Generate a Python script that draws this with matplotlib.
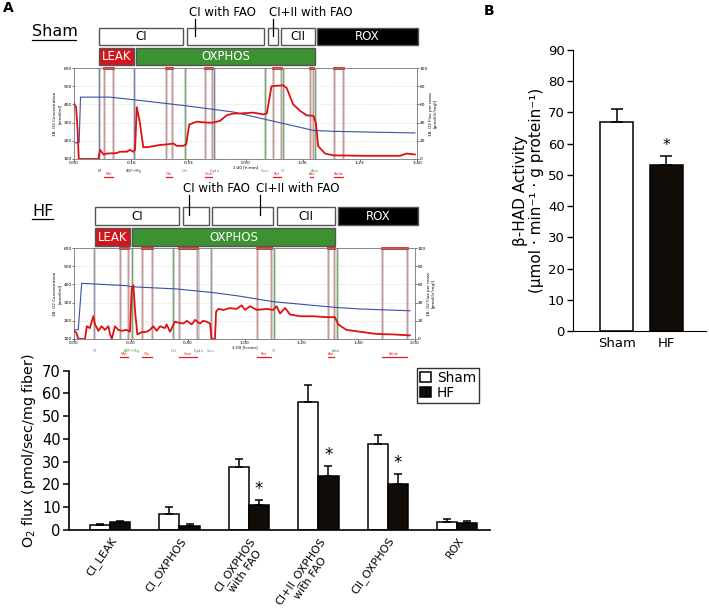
import matplotlib
matplotlib.use("Agg")
import matplotlib.pyplot as plt
from matplotlib.patches import Rectangle
from matplotlib.lines import Line2D
from matplotlib.ticker import AutoMinorLocator
import matplotlib.transforms as mtransforms

W, H = 709, 612

# ---- Oxygraph traces (time in min) ----
sham_o2_t = [0, 1.5, 1.9, 10.5, 17.3, 32.4, 46.5, 56.2, 69.8, 75.6, 99.4]
sham_o2 = [188, 190, 440, 440, 426, 393, 358, 316, 257, 252, 243]
sham_flux_t = [0, 0.6, 1.0, 1.4, 7.1, 7.6, 8.6, 9.5, 12.4, 13.4, 15.4, 16.3, 17.3, 17.8, 18.3,
               19.2, 20.2, 21.2, 23.1, 25.1, 27.0, 29.0, 29.9, 31.9, 32.7, 33.6, 35.8, 38.7, 40.6,
               42.6, 44.5, 46.5, 48.4, 52.3, 55.2, 56.2, 57.6, 61.0, 62.0, 63.9, 65.9, 67.8, 69.8,
               70.5, 71.2, 73.2, 75.6, 85.3, 95.0, 97.0, 99.4]
sham_flux = [61, 57, 35, 0, 0, 10, 5, 6, 6.5, 8, 8, 10, 8, 10, 57,
             40, 13, 13, 14, 15.5, 16, 17, 14.5, 14.5, 16, 38, 41, 40, 40,
             42, 48, 50, 50, 51, 49, 50, 80, 81, 78, 60, 53, 48, 47.5,
             40, 14, 6, 4, 3.5, 3.5, 6, 5]
sham_single_t = [7.2, 17.6, 32.4, 40.9, 55.7, 60.8, 70.4]
sham_single_c = ["#5060a0", "#5060a0", "#40a040", "#5060a0", "#40a040", "#40a040", "#40a040"]
sham_single_lab = ["M", "ADP+Mg", "Oct", "Cyt c", "Succ", "Gl", "Ama"]
sham_pairs = [(8.8, 11.3), (26.7, 28.5), (38.3, 40.2), (57.9, 60.3), (68.8, 69.8), (75.9, 78.5)]
sham_pair_lab = ["Mal", "Glu", "Carn", "Rot", "Ant", "Azide"]

hf_o2_t = [0, 1.5, 2.7, 18.5, 20.3, 36.1, 48.4, 57.2, 70.1, 92.4, 100.6, 118.2]
hf_o2 = [151, 151, 406, 393, 387, 375, 356, 338, 305, 273, 265, 255]
hf_flux_t = [0, 0.9, 1.5, 3.9, 4.5, 5.6, 6.8, 7.4, 8.6, 9.7, 10.9, 12.1, 12.7, 13.3, 14.4,
             15.6, 16.8, 18.5, 19.7, 20.3, 20.9, 21.5, 22.3, 23.8, 25.6, 26.7, 27.9, 29.1, 30.3,
             32.0, 32.6, 33.8, 35.5, 36.7, 38.5, 39.7, 41.4, 42.6, 44.3, 45.5, 46.7, 47.9, 48.4,
             49.6, 50.0, 50.8, 52.6, 54.9, 57.2, 59.0, 60.2, 61.9, 64.3, 67.8, 70.1, 71.3, 72.5,
             74.3, 76.0, 79.5, 84.2, 88.9, 91.8, 93.0, 95.9, 100.6, 106.5, 112.4, 118.2]
hf_flux = [9, 6.5, 0, 0, 14, 12, 25, 16, 9, 14, 10, 14, 5, 0, 14,
           10, 9, 10, 8, 56, 59, 30, 5, 7.5, 8, 10, 14, 9, 14,
           12, 16, 8, 19, 18, 17, 20, 16, 21, 17, 20, 19, 17, 0,
           0, 30, 33, 32, 34, 33, 37, 32, 36, 32, 33, 32, 36, 28,
           34, 27, 25, 25, 24, 24, 16, 10, 8, 5.5, 5, 4]
hf_single_t = [7.2, 20.3, 35.0, 43.8, 48.1, 70.4, 92.4]
hf_single_c = ["#8080a0", "#40a040", "#40a040", "#5060a0", "#8080a0", "#40a040", "#40a040"]
hf_single_lab = ["M", "ADP+Mg", "Oct", "Cyt c", "Succ", "Gl", "Ama"]
hf_pairs = [(16.2, 19.1), (23.8, 27.3), (37.1, 43.2), (64.3, 69.2), (89.3, 91.5), (108.3, 117.1)]
hf_pair_lab = ["Mal", "Glu", "Carn", "Rot", "Ant", "Azide"]

# ---- protocol bars (start, end in min) ----
sham_row1 = [("CI", 7.3, 31.8), ("", 33.0, 55.4), ("", 56.6, 59.5), ("CII", 60.3, 70.3), ("ROX", 70.8, 100.3)]
sham_row2 = [("LEAK", 7.3, 17.5), ("OXPHOS", 18.1, 70.3)]
sham_notes = [("CI with FAO", 43.4, 35.3), ("CI+II with FAO", 69.1, 58.0)]
hf_row1 = [("CI", 7.4, 36.9), ("", 38.4, 47.5), ("", 48.6, 70.0), ("CII", 71.4, 91.8), ("ROX", 92.9, 121.0)]
hf_row2 = [("LEAK", 7.4, 19.7), ("OXPHOS", 20.4, 91.8)]
hf_notes = [("CI with FAO", 50.0, 40.3), ("CI+II with FAO", 78.8, 65.5)]

# ---- O2 flux bar chart ----
flux_groups = ["CI_LEAK", "CI_OXPHOS", "CI_OXPHOS\nwith FAO", "CI+II_OXPHOS\nwith FAO", "CII_OXPHOS", "ROX"]
sham_mean = [2.2, 7.2, 27.6, 56.3, 38.0, 3.6]
sham_err = [0.4, 3.0, 3.8, 7.4, 3.8, 1.4]
hf_mean = [3.5, 1.9, 10.8, 23.7, 20.3, 3.2]
hf_err = [0.4, 0.7, 2.2, 4.5, 4.1, 0.9]
flux_sig = [False, False, True, True, True, False]

# ---- beta-HAD ----
had_groups = ["Sham", "HF"]
had_mean = [66.9, 53.1]
had_err = [4.1, 2.9]
had_sig = [False, True]


def rect(l, t, r, b):
    return [l / W, 1 - b / H, (r - l) / W, (b - t) / H]


fig = plt.figure(figsize=(W / 100, H / 100), dpi=100)


def draw_trace(box, o2_t, o2, fl_t, fl, xmax, tick_lab, center_lab,
               single_t, single_c, single_lab, pairs, pair_lab):
    ax = fig.add_axes(box)
    ax2 = ax.twinx()
    ax.set_xlim(0, xmax)
    ax.set_ylim(100, 600)
    ax2.set_ylim(0, 100)
    for y in range(200, 600, 100):
        ax.axhline(y, color="#c0c0c0", lw=0.5, ls=(0, (1, 2)), zorder=0)
    for t, c in zip(single_t, single_c):
        ax.axvline(t, color="#d0d0d0", lw=2, zorder=1)
        ax.axvline(t, color=c, lw=0.5, zorder=1)
    trans = mtransforms.blended_transform_factory(ax.transData, ax.transAxes)
    for (t1, t2), lab in zip(pairs, pair_lab):
        for t in (t1, t2):
            ax.axvline(t, color="#d0d0d0", lw=2, zorder=1)
            ax.axvline(t, color="#e06060", lw=0.4, zorder=1)
        ax.plot([t1, t2], [1, 1], color="#e02020", lw=2, transform=trans, clip_on=False)
        ax.plot([t1, t2], [-0.2, -0.2], color="#e02020", lw=0.9, transform=trans, clip_on=False)
        ax.text((t1 + t2) / 2, -0.17, lab, color="#e02020", fontsize=2.6, ha="center",
                va="center", transform=trans)
    for t, c, lab in zip(single_t, single_c, single_lab):
        ax.text(t, -0.13, lab, color=c if c != "#5060a0" else "#404040", fontsize=2.6,
                ha="center", va="center", transform=trans)
    ax.plot(o2_t, o2, color="#3a4fa8", lw=0.8, zorder=3)
    ax2.plot(fl_t, fl, color="#e01010", lw=1.3, zorder=3)
    ticks = [xmax * i / 6 for i in range(7)]
    ax.set_xticks(ticks)
    ax.set_xticklabels(tick_lab)
    ax.xaxis.set_minor_locator(AutoMinorLocator(5))
    ax.set_yticks(range(100, 601, 100))
    ax2.set_yticks(range(0, 101, 20))
    for a in (ax, ax2):
        a.tick_params(labelsize=3.2, length=1.2, width=0.4, pad=0.5)
        a.tick_params(which="minor", length=0.8, width=0.3)
        for s in a.spines.values():
            s.set_color("#808080")
            s.set_linewidth(0.5)
    ax.set_ylabel("1B: O2 Concentration\n[nmol/ml]", fontsize=3, labelpad=1)
    ax2.set_ylabel("1B: O2 Flux per mass\n[pmol/(s*mg)]", fontsize=3, labelpad=1)
    ax.text(0.5, -0.088, center_lab, fontsize=3.0, ha="center", va="center", transform=ax.transAxes)
    return ax


def draw_protocol(box, share, row1, row2, notes, note_y):
    ap = fig.add_axes(box, sharex=share)
    ap.set_ylim(0, 1)
    ap.axis("off")
    fills = {"CI": "white", "": "white", "CII": "white", "ROX": "black",
             "LEAK": "#d2161e", "OXPHOS": "#3c9130"}
    for lab, t1, t2 in row1:
        fc = fills[lab]
        ap.add_patch(Rectangle((t1, 0.344), t2 - t1, 0.28, facecolor=fc, edgecolor="#555555",
                               lw=1.0, clip_on=False))
        ap.text((t1 + t2) / 2, 0.484, lab, fontsize=8.5, ha="center", va="center",
                color="white" if fc == "black" else "black", clip_on=False)
    for lab, t1, t2 in row2:
        ap.add_patch(Rectangle((t1, 0.016), t2 - t1, 0.28, facecolor=fills[lab], edgecolor="#555555",
                               lw=1.0, clip_on=False))
        ap.text((t1 + t2) / 2, 0.156, lab, fontsize=8.5, ha="center", va="center",
                color="white", clip_on=False)
    for lab, tx, tl in notes:
        ap.text(tx, note_y, lab, fontsize=8.5, ha="center", va="center", clip_on=False)
        ap.plot([tl, tl], [note_y - 0.1, 0.5], color="black", lw=0.9, clip_on=False)


ax_s = draw_trace(rect(74, 68, 417, 159), sham_o2_t, sham_o2, sham_flux_t, sham_flux, 100,
                  ["0:00", "0:16", "0:33", "0:50", "1:06", "1:23", "1:40"], "1:40 [h:min]",
                  sham_single_t, sham_single_c, sham_single_lab, sham_pairs, sham_pair_lab)
draw_protocol(rect(74, 5, 417, 66), ax_s, sham_row1, sham_row2, sham_notes, 0.87)

ax_h = draw_trace(rect(74, 248, 415, 339), hf_o2_t, hf_o2, hf_flux_t, hf_flux, 120,
                  ["0:00", "0:20", "0:40", "1:00", "1:20", "1:40", "2:00"], "2:00 [h:min]",
                  hf_single_t, hf_single_c, hf_single_lab, hf_pairs, hf_pair_lab)
draw_protocol(rect(74, 183, 415, 247), ax_h, hf_row1, hf_row2, hf_notes, 0.92)

# labels Sham / HF, panel letters
fig.text(32 / W, 1 - 32 / H, "Sham", fontsize=11.5, va="center", ha="left")
fig.add_artist(Line2D([32 / W, 76 / W], [1 - 39.5 / H, 1 - 39.5 / H], color="black", lw=0.9))
fig.text(32 / W, 1 - 211 / H, "HF", fontsize=11.5, va="center", ha="left")
fig.add_artist(Line2D([32 / W, 53 / W], [1 - 218.5 / H, 1 - 218.5 / H], color="black", lw=0.9))
fig.text(3 / W, 1 - 8 / H, "A", fontsize=10, fontweight="bold", va="center", ha="left")
fig.text(484 / W, 1 - 11 / H, "B", fontsize=10, fontweight="bold", va="center", ha="left")

# ---- O2 flux bars ----
axb = fig.add_axes(rect(69, 370.7, 490, 530))
x = list(range(len(flux_groups)))
bw = 0.29
xs = [i - bw / 2 for i in x]
xh = [i + bw / 2 for i in x]
axb.bar(xs, sham_mean, bw, color="white", edgecolor="black", lw=1.1, label="Sham")
axb.bar(xh, hf_mean, bw, color="#120c08", edgecolor="black", lw=1.1, label="HF")
axb.errorbar(xs, sham_mean, yerr=[[0] * len(x), sham_err], fmt="none", ecolor="black",
             elinewidth=1.1, capsize=3, capthick=1.1)
axb.errorbar(xh, hf_mean, yerr=[[0] * len(x), hf_err], fmt="none", ecolor="black",
             elinewidth=1.1, capsize=3, capthick=1.1)
for xi, m, e, s in zip(xh, hf_mean, hf_err, flux_sig):
    if s:
        axb.text(xi, m + e + 1.0, "*", fontsize=12, ha="center", va="bottom")
axb.set_xlim(-0.59, 5.47)
axb.set_ylim(0, 70)
axb.set_yticks(range(0, 71, 10))
axb.set_xticks(x)
axb.set_xticklabels(flux_groups, rotation=55, ha="right", va="top", rotation_mode="anchor",
                    multialignment="center", fontsize=8.0)
axb.tick_params(axis="x", length=0, pad=4)
axb.tick_params(axis="y", labelsize=10.5, length=4, width=1.1, pad=2)
axb.spines["top"].set_visible(False)
axb.spines["right"].set_visible(False)
for s in ("left", "bottom"):
    axb.spines[s].set_linewidth(1.2)
axb.set_ylabel("O$_2$ flux (pmol/sec/mg fiber)", fontsize=10.3, labelpad=3)
leg = axb.legend(loc="upper right", bbox_to_anchor=(0.975, 1.02), borderaxespad=0, fancybox=False,
                 edgecolor="black", fontsize=9.8, handlelength=0.8, handleheight=0.8,
                 handletextpad=0.4, borderpad=0.25, labelspacing=0.05)
leg.get_frame().set_linewidth(1.0)

# ---- beta-HAD bars ----
axc = fig.add_axes(rect(573, 50, 706, 331))
xc = list(range(len(had_groups)))
axc.bar(xc, had_mean, 0.67, color=["white", "#120c08"], edgecolor="black", lw=1.1)
axc.errorbar(xc, had_mean, yerr=[[0, 0], had_err], fmt="none", ecolor="black",
             elinewidth=1.1, capsize=4, capthick=1.1)
for xi, m, e, s in zip(xc, had_mean, had_err, had_sig):
    if s:
        axc.text(xi, m + e + 1.0, "*", fontsize=11, ha="center", va="bottom")
axc.set_xlim(-0.89, 1.81)
axc.set_ylim(0, 90)
axc.set_yticks(range(0, 91, 10))
axc.set_xticks(xc)
axc.set_xticklabels(had_groups, fontsize=9.5)
axc.tick_params(axis="x", length=0, pad=4)
axc.tick_params(axis="y", labelsize=9.5, length=4, width=1.0, pad=2)
axc.spines["top"].set_visible(False)
axc.spines["right"].set_visible(False)
axc.set_ylabel("\u03b2-HAD Activity\n(\u03bcmol \u00b7 min\u207b\u00b9 \u00b7 g protein\u207b\u00b9)",
               fontsize=11, labelpad=3, linespacing=1.05)

fig.savefig("out.png", dpi=100)
